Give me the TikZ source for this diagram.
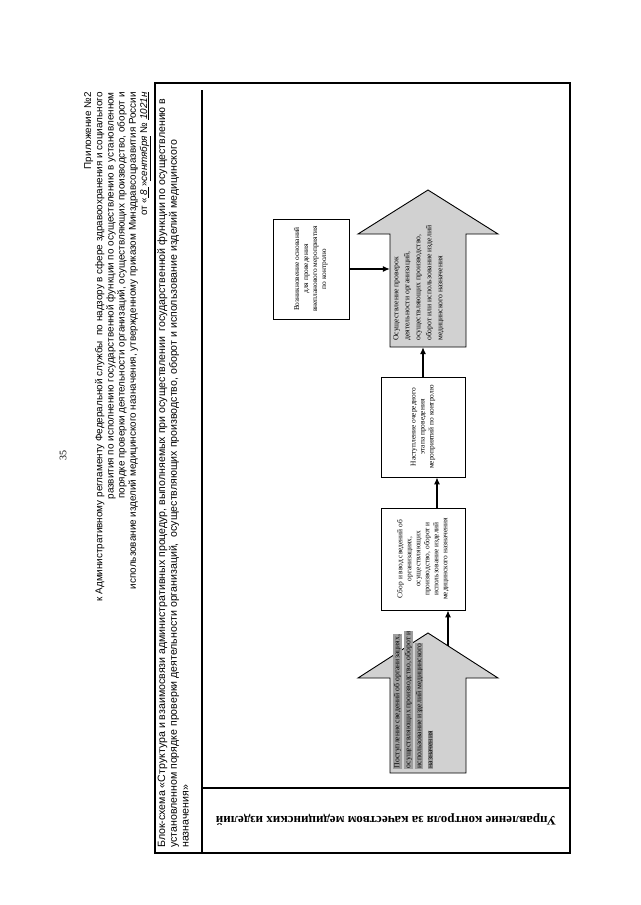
\documentclass[tikz,border=0pt]{standalone}
\usepackage{fontspec}
\setmainfont{Liberation Serif}
\newfontfamily\arialf{Liberation Sans}
\usetikzlibrary{arrows.meta,calc}
\newcommand{\hlline}[1]{{\setlength{\fboxsep}{0.6pt}\colorbox{black!38}{#1}}}
\begin{document}
\begin{tikzpicture}[x=1pt,y=-1pt,
  boxst/.style={draw, line width=0.9pt, rotate=90, align=center,
    font=\fontsize{7.4}{9}\selectfont, inner sep=1pt},
  arrowshape/.style={draw, line width=0.9pt, fill=black!18},
  arrtext/.style={rotate=90, anchor=north west, align=left,
    font=\fontsize{7.7}{11}\selectfont, inner sep=1pt},
  conn/.style={line width=1.1pt, -{Latex[length=7pt,width=6pt]}},
  frame/.style={line width=1.8pt},
  inner/.style={line width=1.3pt}
]
\useasboundingbox (0,0) rectangle (640,905);
\fill[white] (0,0) rectangle (640,905);

% page number
\node[rotate=90, font=\fontsize{10}{12}\selectfont] (pnum) at (63,455) {35};

% header
\node[rotate=90, anchor=north east, align=right, inner sep=0pt,
  font=\arialf\fontsize{9.9}{11.2}\selectfont] (hdr) at (84,92)
 {Приложение №2\\
  к Административному регламенту Федеральной службы \ по надзору в сфере здравоохранения и социального\\
  развития по исполнению государственной функции по осуществлению в установленном\\
  порядке проверки деятельности организаций, осуществляющих производство, оборот и\\
  использование изделий медицинского назначения, утвержденному приказом Минздравсоцразвития России\\
  от «\underline{\textit{\ 8\ }}»\underline{\textit{сентября}} № \underline{\textit{1021н}}};

% outer frame
\draw[frame] (155,83) rectangle (570,853);
\draw[inner] (202,90) -- (202,853);
\draw[inner] (202,788) -- (570,788);

% title
\node[rotate=90, anchor=north west, align=left, inner sep=0pt,
  font=\arialf\fontsize{10.6}{11.8}\selectfont] (title) at (157,848)
 {Блок-схема «Структура и взаимосвязи административных процедур, выполняемых при осуществлении \ государственной функции по осуществлению в\\
  установленном порядке проверки деятельности организаций, \ осуществляющих производство, оборот и использование изделий медицинского\\
  назначения»};

% lane label
\node[rotate=180, font=\bfseries\fontsize{13}{15}\selectfont] (lane) at (386,820)
 {Управление контроля за качеством медицинских изделий};

% big arrow 2 (top)
\coordinate (a2tip) at (428,190);
\draw[arrowshape] (390,347) -- (390,234) -- (358,234) -- (a2tip) -- (498,234) -- (466,234) -- (466,347) -- cycle;
\node[rotate=90, minimum width=113pt, minimum height=76pt, inner sep=0pt] (a2) at (428,290.5) {};
\node[arrtext] (a2t) at (392,342)
 {Осуществление проверок\\деятельности организаций,\\осуществляющих производство,\\оборот или использование изделий\\медицинского назначения};

% big arrow 1 (bottom)
\coordinate (a1tip) at (428,633);
\draw[arrowshape] (390,773) -- (390,678) -- (358,678) -- (a1tip) -- (498,678) -- (466,678) -- (466,773) -- cycle;
\coordinate (a1s) at (448,646);
\node[arrtext] (a1t) at (392,770)
 {\hlline{Поступление сведений об организациях,}\\\hlline{осуществляющих производство, оборот и}\\\hlline{использование изделий медицинского}\\\hlline{назначения}};

% boxes
\node[boxst, minimum width=100pt, minimum height=76pt] (b1) at (311,269)
 {Возникновение оснований\\для проведения\\внепланового мероприятия\\по контролю};
\node[boxst, minimum width=100pt, minimum height=84pt] (b2) at (423,427)
 {Наступление очередного\\этапа проведения\\мероприятий по контролю};
\node[boxst, minimum width=102pt, minimum height=84pt] (b3) at (423,559)
 {Сбор и ввод сведений об\\организациях,\\осуществляющих\\производство, оборот и\\использование изделий\\медицинского назначения};

% connectors
\draw[conn] (b1.south) -- (b1.south -| a2.north);
\draw[conn] (b2.east) -- (b2.east |- a2.west);
\draw[conn] ([xshift=14pt]b3.east) -- ([xshift=14pt]b2.west);
\draw[conn] (a1s) -- (a1s |- b3.west);
\end{tikzpicture}
\end{document}
